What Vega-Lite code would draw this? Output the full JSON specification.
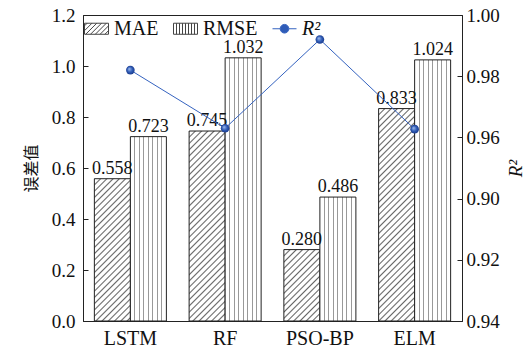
{
  "$schema": "https://vega.github.io/schema/vega-lite/v6.json",
  "width": 379,
  "height": 306,
  "autosize": "none",
  "padding": {"left": 83, "top": 15, "right": 65, "bottom": 31},
  "background": "white",
  "params": [
    {"name": "hs", "value": [
      {"offset":0,"color":"#666"},{"offset":0.006,"color":"#fff"},{"offset":0.019,"color":"#fff"},
      {"offset":0.025,"color":"#666"},{"offset":0.031,"color":"#fff"},{"offset":0.044,"color":"#fff"},
      {"offset":0.05,"color":"#666"},{"offset":0.056,"color":"#fff"},{"offset":0.069,"color":"#fff"},
      {"offset":0.075,"color":"#666"},{"offset":0.081,"color":"#fff"},{"offset":0.094,"color":"#fff"},
      {"offset":0.1,"color":"#666"},{"offset":0.106,"color":"#fff"},{"offset":0.119,"color":"#fff"},
      {"offset":0.125,"color":"#666"},{"offset":0.131,"color":"#fff"},{"offset":0.144,"color":"#fff"},
      {"offset":0.15,"color":"#666"},{"offset":0.156,"color":"#fff"},{"offset":0.169,"color":"#fff"},
      {"offset":0.175,"color":"#666"},{"offset":0.181,"color":"#fff"},{"offset":0.194,"color":"#fff"},
      {"offset":0.2,"color":"#666"},{"offset":0.206,"color":"#fff"},{"offset":0.219,"color":"#fff"},
      {"offset":0.225,"color":"#666"},{"offset":0.231,"color":"#fff"},{"offset":0.244,"color":"#fff"},
      {"offset":0.25,"color":"#666"},{"offset":0.256,"color":"#fff"},{"offset":0.269,"color":"#fff"},
      {"offset":0.275,"color":"#666"},{"offset":0.281,"color":"#fff"},{"offset":0.294,"color":"#fff"},
      {"offset":0.3,"color":"#666"},{"offset":0.306,"color":"#fff"},{"offset":0.319,"color":"#fff"},
      {"offset":0.325,"color":"#666"},{"offset":0.331,"color":"#fff"},{"offset":0.344,"color":"#fff"},
      {"offset":0.35,"color":"#666"},{"offset":0.356,"color":"#fff"},{"offset":0.369,"color":"#fff"},
      {"offset":0.375,"color":"#666"},{"offset":0.381,"color":"#fff"},{"offset":0.394,"color":"#fff"},
      {"offset":0.4,"color":"#666"},{"offset":0.406,"color":"#fff"},{"offset":0.419,"color":"#fff"},
      {"offset":0.425,"color":"#666"},{"offset":0.431,"color":"#fff"},{"offset":0.444,"color":"#fff"},
      {"offset":0.45,"color":"#666"},{"offset":0.456,"color":"#fff"},{"offset":0.469,"color":"#fff"},
      {"offset":0.475,"color":"#666"},{"offset":0.481,"color":"#fff"},{"offset":0.494,"color":"#fff"},
      {"offset":0.5,"color":"#666"},{"offset":0.506,"color":"#fff"},{"offset":0.519,"color":"#fff"},
      {"offset":0.525,"color":"#666"},{"offset":0.531,"color":"#fff"},{"offset":0.544,"color":"#fff"},
      {"offset":0.55,"color":"#666"},{"offset":0.556,"color":"#fff"},{"offset":0.569,"color":"#fff"},
      {"offset":0.575,"color":"#666"},{"offset":0.581,"color":"#fff"},{"offset":0.594,"color":"#fff"},
      {"offset":0.6,"color":"#666"},{"offset":0.606,"color":"#fff"},{"offset":0.619,"color":"#fff"},
      {"offset":0.625,"color":"#666"},{"offset":0.631,"color":"#fff"},{"offset":0.644,"color":"#fff"},
      {"offset":0.65,"color":"#666"},{"offset":0.656,"color":"#fff"},{"offset":0.669,"color":"#fff"},
      {"offset":0.675,"color":"#666"},{"offset":0.681,"color":"#fff"},{"offset":0.694,"color":"#fff"},
      {"offset":0.7,"color":"#666"},{"offset":0.706,"color":"#fff"},{"offset":0.719,"color":"#fff"},
      {"offset":0.725,"color":"#666"},{"offset":0.731,"color":"#fff"},{"offset":0.744,"color":"#fff"},
      {"offset":0.75,"color":"#666"},{"offset":0.756,"color":"#fff"},{"offset":0.769,"color":"#fff"},
      {"offset":0.775,"color":"#666"},{"offset":0.781,"color":"#fff"},{"offset":0.794,"color":"#fff"},
      {"offset":0.8,"color":"#666"},{"offset":0.806,"color":"#fff"},{"offset":0.819,"color":"#fff"},
      {"offset":0.825,"color":"#666"},{"offset":0.831,"color":"#fff"},{"offset":0.844,"color":"#fff"},
      {"offset":0.85,"color":"#666"},{"offset":0.856,"color":"#fff"},{"offset":0.869,"color":"#fff"},
      {"offset":0.875,"color":"#666"},{"offset":0.881,"color":"#fff"},{"offset":0.894,"color":"#fff"},
      {"offset":0.9,"color":"#666"},{"offset":0.906,"color":"#fff"},{"offset":0.919,"color":"#fff"},
      {"offset":0.925,"color":"#666"},{"offset":0.931,"color":"#fff"},{"offset":0.944,"color":"#fff"},
      {"offset":0.95,"color":"#666"},{"offset":0.956,"color":"#fff"},{"offset":0.969,"color":"#fff"},
      {"offset":0.975,"color":"#666"},{"offset":0.981,"color":"#fff"},{"offset":0.994,"color":"#fff"},
      {"offset":1,"color":"#666"}
    ]}
  ],
  "data": {"values": [
    {"model": "LSTM", "MAE": 0.558, "RMSE": 0.723, "R2": 0.982},
    {"model": "RF", "MAE": 0.745, "RMSE": 1.032, "R2": 0.963},
    {"model": "PSO-BP", "MAE": 0.280, "RMSE": 0.486, "R2": 0.992},
    {"model": "ELM", "MAE": 0.833, "RMSE": 1.024, "R2": 0.9627}
  ]},
  "encoding": {
    "x": {
      "field": "model", "type": "nominal",
      "sort": ["LSTM", "RF", "PSO-BP", "ELM"],
      "scale": {"paddingInner": 0.24, "paddingOuter": 0.12},
      "axis": {"title": null, "ticks": false, "labelAngle": 0, "labelFontSize": 20, "labelPadding": 7}
    }
  },
  "layer": [
    {
      "transform": [{"fold": ["MAE", "RMSE"], "as": ["metric", "value"]}],
      "encoding": {
        "xOffset": {"field": "metric", "type": "nominal", "scale": {"domain": ["MAE", "RMSE"], "paddingInner": 0, "paddingOuter": 0}},
        "y": {
          "field": "value", "type": "quantitative",
          "scale": {"domain": [0, 1.2], "nice": false},
          "axis": {"orient": "left", "values": [0, 0.2, 0.4, 0.6, 0.8, 1.0, 1.2], "format": ".1f", "labelPadding": 13, "title": "误差值", "titleFont": "Noto Sans CJK SC", "titleFontSize": 16, "titleFontWeight": "normal", "titlePadding": 12}
        }
      },
      "layer": [
        {"transform": [{"filter": "datum.metric === 'MAE' && datum.model === 'LSTM'"}],
         "mark": {"type": "bar", "stroke": "#222", "strokeWidth": 1, "fill": {"expr": "{gradient: 'linear', x1: 0, y1: 0, x2: 0.4177, y2: 1.6512, stops: hs}"}}},
        {"transform": [{"filter": "datum.metric === 'MAE' && datum.model === 'RF'"}],
         "mark": {"type": "bar", "stroke": "#222", "strokeWidth": 1, "fill": {"expr": "{gradient: 'linear', x1: 0, y1: 0, x2: 0.2407, y2: 1.2702, stops: hs}"}}},
        {"transform": [{"filter": "datum.metric === 'MAE' && datum.model === 'PSO-BP'"}],
         "mark": {"type": "bar", "stroke": "#222", "strokeWidth": 1, "fill": {"expr": "{gradient: 'linear', x1: 0, y1: 0, x2: 1.4076, y2: 2.7917, stops: hs}"}}},
        {"transform": [{"filter": "datum.metric === 'MAE' && datum.model === 'ELM'"}],
         "mark": {"type": "bar", "stroke": "#222", "strokeWidth": 1, "fill": {"expr": "{gradient: 'linear', x1: 0, y1: 0, x2: 0.1939, y2: 1.1441, stops: hs}"}}},
        {"transform": [{"filter": "datum.metric === 'RMSE'"}],
         "mark": {"type": "bar", "stroke": "#222", "strokeWidth": 1, "fill": {"gradient": "linear", "x1": 0, "y1": 0, "x2": 1, "y2": 0, "stops": [
           {"offset": 0, "color": "#fff"},
           {"offset": 0.111, "color": "#fff"}, {"offset": 0.111, "color": "#999"}, {"offset": 0.139, "color": "#999"}, {"offset": 0.139, "color": "#fff"},
           {"offset": 0.236, "color": "#fff"}, {"offset": 0.236, "color": "#999"}, {"offset": 0.264, "color": "#999"}, {"offset": 0.264, "color": "#fff"},
           {"offset": 0.361, "color": "#fff"}, {"offset": 0.361, "color": "#999"}, {"offset": 0.389, "color": "#999"}, {"offset": 0.389, "color": "#fff"},
           {"offset": 0.486, "color": "#fff"}, {"offset": 0.486, "color": "#999"}, {"offset": 0.514, "color": "#999"}, {"offset": 0.514, "color": "#fff"},
           {"offset": 0.611, "color": "#fff"}, {"offset": 0.611, "color": "#999"}, {"offset": 0.639, "color": "#999"}, {"offset": 0.639, "color": "#fff"},
           {"offset": 0.736, "color": "#fff"}, {"offset": 0.736, "color": "#999"}, {"offset": 0.764, "color": "#999"}, {"offset": 0.764, "color": "#fff"},
           {"offset": 0.861, "color": "#fff"}, {"offset": 0.861, "color": "#999"}, {"offset": 0.889, "color": "#999"}, {"offset": 0.889, "color": "#fff"},
           {"offset": 1, "color": "#fff"}
         ]}}},
        {"mark": {"type": "text", "baseline": "bottom", "dy": -1, "font": "Liberation Serif", "fontSize": 18, "color": "#111"},
         "encoding": {"text": {"field": "value", "type": "quantitative", "format": ".3f"}}},
        {"mark": {"type": "point", "opacity": 0},
         "encoding": {
           "shape": {"field": "metric", "type": "nominal",
             "scale": {"domain": ["MAE", "RMSE", "R2"], "range": [
               "M-1,-0.46H1V0.46H-1Z M-1,-0.24L-0.78,-0.46 M-1,0.16L-0.38,-0.46 M-0.9,0.46L0.02,-0.46 M-0.5,0.46L0.42,-0.46 M-0.1,0.46L0.82,-0.46 M0.3,0.46L1,-0.24 M0.7,0.46L1,0.16",
               "M-1,-0.46H1V0.46H-1Z M-0.75,-0.46V0.46 M-0.5,-0.46V0.46 M-0.25,-0.46V0.46 M0,-0.46V0.46 M0.25,-0.46V0.46 M0.5,-0.46V0.46 M0.75,-0.46V0.46",
               "M-1,0H-0.36 M0.36,0H1 M-0.36,0A0.36,0.36 0 1,0 0.36,0A0.36,0.36 0 1,0 -0.36,0Z"
             ]},
             "legend": {"title": null, "labelExpr": "datum.value === 'R2' ? 'R²' : datum.label", "encode": {"labels": {"update": {"fontStyle": {"signal": "datum.value === 'R2' ? 'italic' : 'normal'"}}}}}},
           "stroke": {"field": "metric", "type": "nominal",
             "scale": {"domain": ["MAE", "RMSE", "R2"], "range": ["#444", "#444", "#3563c0"]},
             "legend": {"title": null, "labelExpr": "datum.value === 'R2' ? 'R²' : datum.label", "encode": {"labels": {"update": {"fontStyle": {"signal": "datum.value === 'R2' ? 'italic' : 'normal'"}}}}}},
           "fill": {"field": "metric", "type": "nominal",
             "scale": {"domain": ["MAE", "RMSE", "R2"], "range": ["#fff", "#fff", "#2f5cb8"]},
             "legend": {"title": null, "labelExpr": "datum.value === 'R2' ? 'R²' : datum.label", "encode": {"labels": {"update": {"fontStyle": {"signal": "datum.value === 'R2' ? 'italic' : 'normal'"}}}}}}
         }}
      ]
    },
    {
      "encoding": {
        "y": {
          "field": "R2", "type": "quantitative",
          "scale": {"domain": [0.9, 1.0], "nice": false, "zero": false},
          "axis": {"orient": "right", "values": [0.9, 0.92, 0.94, 0.96, 0.98, 1.0],
            "labelExpr": "datum.value < 0.91 ? '0.94' : (abs(datum.value - 0.94) < 0.001 ? '0.90' : format(datum.value, '.2f'))",
            "labelPadding": 9,
            "title": "R²", "titleFontStyle": "italic", "titleFont": "Liberation Serif", "titleFontSize": 19, "titleFontWeight": "normal", "titleAngle": 270, "titlePadding": 26}
        }
      },
      "layer": [
        {"mark": {"type": "line", "stroke": "#3563c0", "strokeWidth": 1}, "encoding": {}},
        {"mark": {"type": "point", "filled": true, "size": 75, "opacity": 1, "fill": {"gradient": "radial", "x1": 0.35, "y1": 0.35, "r1": 0, "x2": 0.5, "y2": 0.5, "r2": 0.5, "stops": [{"offset": 0, "color": "#a9c3f0"}, {"offset": 0.6, "color": "#2f5cb8"}, {"offset": 1, "color": "#1c3c8c"}]}}, "encoding": {}}
      ]
    }
  ],
  "resolve": {"scale": {"y": "independent"}, "axis": {"y": "independent"}},
  "config": {
    "view": {"stroke": "#222", "strokeWidth": 1},
    "font": "Liberation Serif",
    "axis": {"labelFont": "Liberation Serif", "labelFontSize": 19, "labelColor": "#111", "titleColor": "#111", "domainColor": "#222", "domainWidth": 1, "tickColor": "#222", "tickSize": -5, "labelPadding": 8, "grid": false},
    "legend": {"orient": "top-left", "direction": "horizontal", "offset": 1, "padding": 0, "symbolSize": 576, "symbolStrokeWidth": 1, "symbolOpacity": 1, "labelFont": "Liberation Serif", "labelFontSize": 20, "labelColor": "#111", "labelOffset": 5, "columnPadding": 12}
  }
}
